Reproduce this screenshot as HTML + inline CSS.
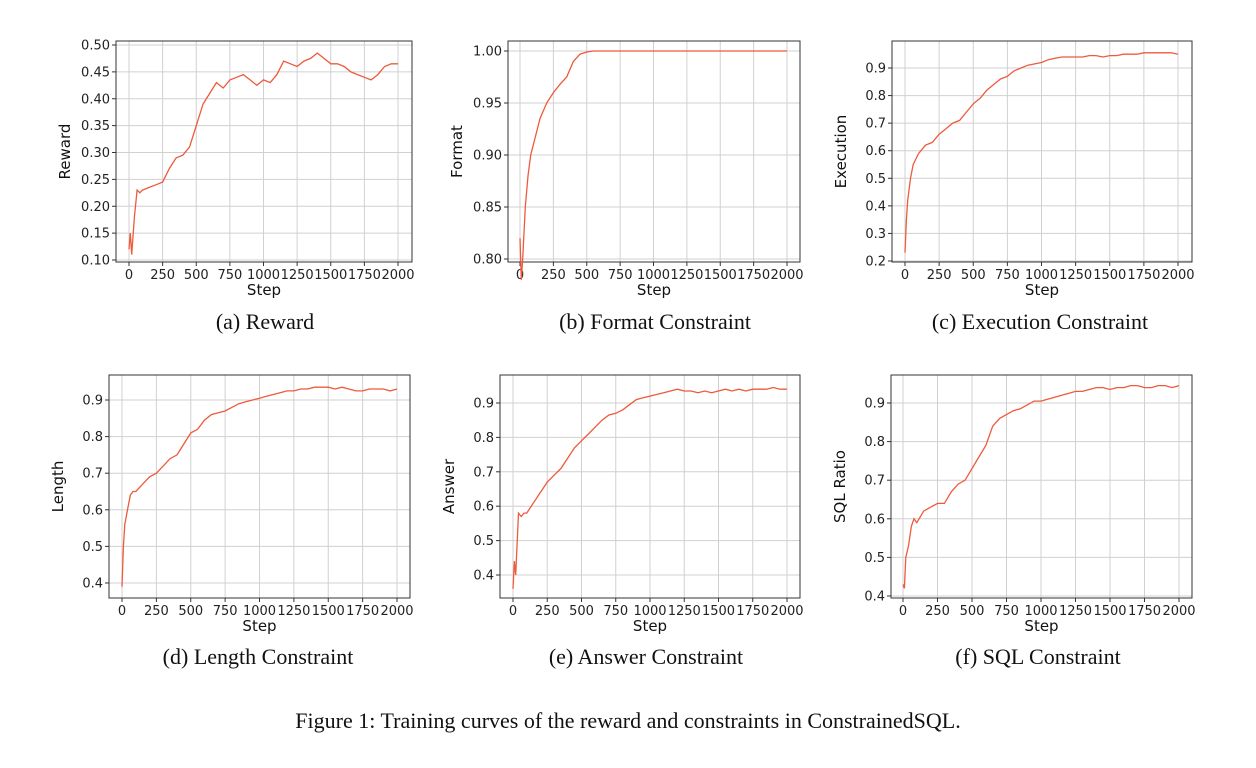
<!DOCTYPE html>
<html><head><meta charset="utf-8"><style>
body{margin:0;background:#fff;width:1256px;height:768px;overflow:hidden}
svg{display:block}
.tk{font-family:"DejaVu Sans","Liberation Sans",sans-serif;font-size:13px;fill:#222}
.lb{font-family:"DejaVu Sans","Liberation Sans",sans-serif;font-size:15px;fill:#111}
.cap{font-family:"Liberation Serif",serif;font-size:22px;fill:#111}
</style></head><body>
<svg id="fig" width="1256" height="768">
<text class="cap" x="628" y="728" text-anchor="middle">Figure 1: Training curves of the reward and constraints in ConstrainedSQL.</text>
</svg>
<script>
const steps=[0,10,20,40,60,80,100,150,200,250,300,350,400,450,500,550,600,650,700,750,800,850,900,950,1000,1050,1100,1150,1200,1250,1300,1350,1400,1450,1500,1550,1600,1650,1700,1750,1800,1850,1900,1950,2000];
const xTicks=[0,250,500,750,1000,1250,1500,1750,2000];
const rewardVals=[0.12,0.15,0.11,0.18,0.23,0.225,0.23,0.235,0.24,0.245,0.27,0.29,0.295,0.31,0.35,0.39,0.41,0.43,0.42,0.435,0.44,0.445,0.435,0.425,0.435,0.43,0.445,0.47,0.465,0.46,0.47,0.475,0.485,0.475,0.465,0.465,0.46,0.45,0.445,0.44,0.435,0.445,0.46,0.465,0.465];
const formatVals=[0.82,0.78,0.80,0.85,0.88,0.90,0.91,0.935,0.95,0.96,0.968,0.975,0.99,0.997,0.999,1,1,1,1,1,1,1,1,1,1,1,1,1,1,1,1,1,1,1,1,1,1,1,1,1,1,1,1,1,1];
const execVals=[0.23,0.35,0.42,0.50,0.55,0.57,0.59,0.62,0.63,0.66,0.68,0.70,0.71,0.74,0.77,0.79,0.82,0.84,0.86,0.87,0.89,0.90,0.91,0.915,0.92,0.93,0.935,0.94,0.94,0.94,0.94,0.945,0.945,0.94,0.945,0.945,0.95,0.95,0.95,0.955,0.955,0.955,0.955,0.955,0.95];
const lengthVals=[0.39,0.50,0.56,0.60,0.64,0.65,0.65,0.67,0.69,0.70,0.72,0.74,0.75,0.78,0.81,0.82,0.845,0.86,0.865,0.87,0.88,0.89,0.895,0.90,0.905,0.91,0.915,0.92,0.925,0.925,0.93,0.93,0.935,0.935,0.935,0.93,0.935,0.93,0.925,0.925,0.93,0.93,0.93,0.925,0.93];
const answerVals=[0.36,0.44,0.40,0.58,0.57,0.58,0.58,0.61,0.64,0.67,0.69,0.71,0.74,0.77,0.79,0.81,0.83,0.85,0.865,0.87,0.88,0.895,0.91,0.915,0.92,0.925,0.93,0.935,0.94,0.935,0.935,0.93,0.935,0.93,0.935,0.94,0.935,0.94,0.935,0.94,0.94,0.94,0.945,0.94,0.94];
const sqlVals=[0.43,0.42,0.50,0.53,0.58,0.60,0.59,0.62,0.63,0.64,0.64,0.67,0.69,0.70,0.73,0.76,0.79,0.84,0.86,0.87,0.88,0.885,0.895,0.905,0.905,0.91,0.915,0.92,0.925,0.93,0.93,0.935,0.94,0.94,0.935,0.94,0.94,0.945,0.945,0.94,0.94,0.945,0.945,0.94,0.945];
const yTicksA=[0.10,0.15,0.20,0.25,0.30,0.35,0.40,0.45,0.50];
const yTicksB=[0.80,0.85,0.90,0.95,1.00];
const yTicksC=[0.2,0.3,0.4,0.5,0.6,0.7,0.8,0.9];
const yTicksD=[0.4,0.5,0.6,0.7,0.8,0.9];
const labels=["Reward","Format","Execution","Length","Answer","SQL Ratio"];
const captions=["(a)  Reward","(b)  Format Constraint","(c)  Execution Constraint","(d)  Length Constraint","(e)  Answer Constraint","(f)  SQL Constraint"];
const NS="http://www.w3.org/2000/svg";
const svg=document.getElementById('fig');
function mk(t,a,p){const e=document.createElementNS(NS,t);for(const k in a)e.setAttribute(k,a[k]);(p||svg).appendChild(e);return e;}
const panels=[
 {vals:rewardVals,ticks:yTicksA,box:[116,412,41,262],x0:129,x1:398,v1:0.10,p1:260,v2:0.50,p2:45,dg:2,cx:265,cy:329},
 {vals:formatVals,ticks:yTicksB,box:[508,800,41,262],x0:520,x1:787,v1:0.80,p1:259,v2:1.00,p2:51,dg:2,cx:655,cy:329},
 {vals:execVals,ticks:yTicksC,box:[892,1192,41,262],x0:905,x1:1178,v1:0.2,p1:261,v2:0.9,p2:68,dg:1,cx:1040,cy:329},
 {vals:lengthVals,ticks:yTicksD,box:[109,410,375,598],x0:122,x1:397,v1:0.4,p1:583,v2:0.9,p2:400,dg:1,cx:258,cy:664},
 {vals:answerVals,ticks:yTicksD,box:[500,800,375,598],x0:513,x1:787,v1:0.4,p1:575,v2:0.9,p2:403,dg:1,cx:646,cy:664},
 {vals:sqlVals,ticks:yTicksD,box:[891,1192,375,598],x0:903,x1:1179,v1:0.4,p1:596,v2:0.9,p2:403,dg:1,cx:1038,cy:664}
];
panels.forEach((P,i)=>{
 const [L,R,T,B]=P.box;
 const xs=v=>P.x0+(P.x1-P.x0)*v/2000;
 const ys=v=>P.p1+(P.p2-P.p1)*(v-P.v1)/(P.v2-P.v1);
 const g=mk('g',{});
 
 
 xTicks.forEach(t=>{const x=xs(t);
  const gl=mk('line',{x1:x,x2:x,y1:T,y2:B,stroke:'#d0d0d0','stroke-width':1},g);
  
  mk('line',{x1:x,x2:x,y1:B,y2:B+4,stroke:'#333'},g);
  const tx=mk('text',{x:x,y:B+17,'text-anchor':'middle',class:'tk'},g);tx.textContent=t;
  });
 P.ticks.forEach(t=>{const y=ys(t);
  const gl=mk('line',{x1:L,x2:R,y1:y,y2:y,stroke:'#d0d0d0','stroke-width':1},g);
  
  mk('line',{x1:L-4,x2:L,y1:y,y2:y,stroke:'#333'},g);
  const tx=mk('text',{x:L-6,y:y+4.5,'text-anchor':'end',class:'tk'},g);tx.textContent=t.toFixed(P.dg);
  });
 const fr=mk('rect',{x:L,y:T,width:R-L,height:B-T,fill:'none',stroke:'#333','stroke-width':1},g);
 
 const d=P.vals.map((v,k)=>(k?'L':'M')+xs(steps[k]).toFixed(1)+','+ys(v).toFixed(1)).join('');
 const ln=mk('path',{d:d,fill:'none',stroke:'#ee5a3c','stroke-width':1.3},g);
 
 const xl=mk('text',{x:(L+R)/2,y:B+33,'text-anchor':'middle',class:'lb'},g);xl.textContent='Step';
 
 const yx=L-46,yy=(T+B)/2;
 const yl=mk('text',{x:yx,y:yy,'text-anchor':'middle',class:'lb',transform:`rotate(-90 ${yx} ${yy})`},g);yl.textContent=labels[i];
 
 const cp=mk('text',{x:P.cx,y:P.cy,'text-anchor':'middle',class:'cap'},g);cp.textContent=captions[i];
 
});
</script>
</body></html>
